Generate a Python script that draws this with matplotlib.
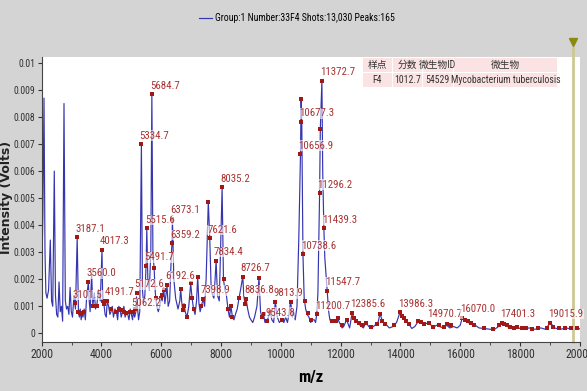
import numpy as np
import matplotlib.pyplot as plt
from matplotlib.patches import Rectangle

# spectrum trace (m/z, intensity in mV)
trace_mz = [2000, 2040, 2077, 2110, 2140, 2180, 2230, 2288, 2330, 2370, 2421, 2460, 2500, 2540,
            2580, 2620, 2660, 2700, 2746, 2790, 2830, 2870, 2910, 2950, 2990, 3030, 3080, 3130,
            3187, 3230, 3260, 3290, 3320, 3350, 3380, 3420, 3460, 3500, 3560, 3590, 3620, 3670,
            3710, 3760, 3800, 3850, 3900, 3960, 4017, 4040, 4080, 4120, 4160, 4192, 4240, 4280,
            4320, 4360, 4400, 4450, 4500, 4540, 4580, 4620, 4660, 4700, 4750, 4790, 4840, 4880,
            4920, 4960, 5000, 5040, 5062, 5110, 5150, 5173, 5240, 5280, 5335, 5370, 5410, 5450,
            5492, 5516, 5550, 5600, 5650, 5685, 5720, 5760, 5800, 5850, 5900, 5950, 5990, 6030,
            6080, 6120, 6193, 6230, 6280, 6340, 6359, 6373, 6420, 6480, 6560, 6620, 6649, 6680,
            6720, 6760, 6800, 6860, 6920, 6984, 7030, 7080, 7130, 7180, 7218, 7260, 7300, 7340,
            7399, 7450, 7500, 7573, 7622, 7670, 7720, 7760, 7800, 7834, 7880, 7940, 7990, 8035,
            8080, 8130, 8180, 8230, 8280, 8330, 8380, 8430, 8480, 8540, 8600, 8650, 8727, 8760,
            8800, 8837, 8890, 8950, 9000, 9060, 9120, 9200, 9268, 9320, 9370, 9420, 9470, 9544,
            9580, 9640, 9700, 9760, 9814, 9880, 9950, 10030, 10100, 10160, 10220, 10270, 10328,
            10380, 10430, 10480, 10540, 10600, 10657, 10677, 10700, 10739, 10780, 10830, 10880,
            10940, 11000, 11060, 11120, 11160, 11201, 11240, 11296, 11320, 11373, 11400, 11439,
            11470, 11548, 11600, 11640, 11700, 11760, 11830, 11900, 11960, 12050, 12100, 12200,
            12300, 12386, 12460, 12550, 12650, 12760, 12850, 12940, 13030, 13150, 13250, 13316,
            13400, 13500, 13630, 13750, 13870, 13986, 14080, 14180, 14280, 14380, 14480, 14600,
            14700, 14820, 14971, 15080, 15200, 15320, 15430, 15550, 15650, 15780, 15900, 16000,
            16070, 16150, 16260, 16380, 16500, 16630, 16800, 17000, 17150, 17280, 17401, 17520,
            17650, 17800, 17950, 18100, 18300, 18500, 18700, 18850, 19016, 19150, 19350, 19550,
            19750, 20000]
trace_int = [2.0, 4.4, 8.7, 3.0, 1.5, 1.3, 1.6, 3.45, 1.2, 1.0, 6.0, 1.4, 0.7, 0.6,
             1.9, 0.8, 1.0, 0.45, 8.5, 1.2, 0.9, 1.0, 0.7, 1.7, 0.8, 0.6, 1.4, 0.9,
             3.55, 0.8, 0.6, 0.9, 0.5, 0.8, 0.6, 0.9, 0.5, 1.3, 1.9, 1.2, 0.8, 2.2,
             1.0, 1.5, 0.9, 1.1, 1.6, 1.2, 3.1, 1.2, 1.1, 0.7, 0.6, 1.2, 1.0, 0.7,
             0.8, 1.0, 0.6, 0.9, 0.8, 0.5, 1.0, 0.9, 0.6, 0.8, 1.0, 0.6, 0.8, 0.7,
             0.5, 0.9, 0.7, 0.5, 0.8, 0.6, 0.8, 1.35, 0.5, 0.8, 7.0, 1.6, 1.1, 1.4,
             2.5, 3.88, 2.0, 1.6, 3.0, 8.85, 3.0, 2.4, 1.5, 1.0, 0.8, 1.0, 1.4, 1.2,
             1.7, 1.1, 1.75, 1.0, 1.2, 3.0, 3.33, 4.23, 2.0, 1.3, 0.9, 1.2, 1.65, 1.2,
             0.8, 1.1, 0.8, 0.6, 1.0, 1.85, 1.3, 0.9, 0.7, 1.2, 2.1, 1.1, 0.8, 1.0,
             1.28, 1.0, 2.0, 4.87, 3.51, 1.6, 1.4, 1.3, 2.0, 2.69, 1.4, 1.2, 3.5, 5.4,
             2.0, 1.6, 1.4, 0.9, 0.6, 1.0, 0.6, 0.5, 0.7, 0.9, 1.3, 1.6, 2.1, 1.4,
             1.1, 1.28, 0.9, 0.6, 0.5, 0.4, 0.6, 1.0, 2.06, 0.8, 0.6, 0.7, 0.4, 0.45,
             0.6, 0.8, 0.5, 0.4, 1.17, 0.6, 0.4, 0.5, 0.4, 0.6, 0.4, 0.7, 1.2,
             0.6, 0.8, 0.5, 1.0, 3.5, 6.63, 8.66, 7.82, 2.93, 1.3, 0.9, 0.7,
             0.6, 0.4, 0.5, 0.5, 0.4, 0.7, 1.5, 5.18, 7.56, 9.35, 6.0, 3.88,
             2.8, 1.58, 0.8, 0.5, 0.4, 0.45, 0.4, 0.55, 0.4, 0.2, 0.25, 0.5,
             0.2, 0.76, 0.5, 0.4, 0.3, 0.2, 0.4, 0.25, 0.2, 0.3, 0.4, 0.72,
             0.45, 0.35, 0.2, 0.25, 0.4, 0.78, 0.6, 0.45, 0.35, 0.18, 0.25, 0.45,
             0.4, 0.35, 0.4, 0.2, 0.3, 0.25, 0.2, 0.3, 0.2, 0.25, 0.2, 0.3,
             0.58, 0.5, 0.4, 0.35, 0.3, 0.2, 0.18, 0.15, 0.15, 0.25, 0.39, 0.3,
             0.2, 0.18, 0.2, 0.15, 0.2, 0.15, 0.2, 0.15, 0.4, 0.2, 0.15, 0.2,
             0.15, 0.17]

# labelled peaks
label_mz = [3101.5, 3187.1, 3560.0, 4017.3, 4191.7, 5062.2, 5172.6, 5334.7, 5491.7, 5515.6,
            5684.7, 6192.6, 6359.2, 6373.1, 7398.9, 7621.6, 7834.4, 8035.2, 8726.7, 8836.8,
            9543.8, 9813.9, 10656.9, 10677.3, 10738.6, 11200.7, 11296.2, 11372.7, 11439.3,
            11547.7, 12385.6, 13986.3, 14970.7, 16070.0, 17401.3, 19015.9]
label_int = [1.11, 3.55, 1.9, 3.1, 1.2, 0.8, 1.5, 7.0, 2.5, 3.88,
             8.85, 1.8, 3.33, 4.23, 1.28, 3.51, 2.69, 5.4, 2.1, 1.28,
             0.45, 1.17, 6.63, 7.82, 2.93, 0.7, 5.18, 9.35, 3.88,
             1.58, 0.76, 0.78, 0.4, 0.58, 0.39, 0.4]

# other detected peaks (red dots without text)
dot_mz = [3230, 3280, 3330, 3420, 3700, 3850, 4060, 4100, 4330, 4480,
          4600, 4650, 4760, 4820, 4960, 5120, 5750, 5830, 5980, 6010, 6080, 6649, 6720, 6770,
          6860, 6984, 7030, 7080, 7218, 7330, 7573, 8090, 8240, 8330, 8380, 8600, 8800, 9268,
          9370, 9420, 9640, 10050, 10328, 10673, 10800, 10900, 11000, 11320, 11700, 11830,
          11900, 12050, 12200, 12460, 12520, 12600, 12700, 12850, 13000, 13200, 13316, 13400,
          13500, 13800, 14050, 14120, 14200, 14300, 14600, 14700, 14800, 15100, 15300, 15450,
          15550, 15700, 16150, 16250, 16350, 16450, 16800, 17100, 17300, 17480, 17550, 17650,
          17800, 17900, 18050, 18200, 18400, 18600, 18900, 19100, 19300, 19500, 19700, 19900]
dot_int = [0.8, 0.75, 0.7, 0.8, 1.0, 1.0, 1.2, 1.1, 0.9, 0.8,
           0.9, 0.85, 0.8, 0.75, 0.8, 0.9, 2.4, 1.3, 1.3, 1.4, 1.6, 1.65, 0.85, 1.0,
           0.6, 1.85, 1.3, 0.9, 2.1, 1.0, 4.87, 2.0, 0.9, 1.0, 0.6, 1.3, 1.1, 2.06,
           0.6, 0.7, 0.8, 0.5, 1.17, 8.66, 1.2, 0.75, 0.5, 7.56, 0.45, 0.45,
           0.55, 0.3, 0.5, 0.55, 0.45, 0.4, 0.3, 0.4, 0.25, 0.35, 0.72, 0.45,
           0.35, 0.3, 0.65, 0.55, 0.45, 0.35, 0.45, 0.42, 0.35, 0.25, 0.3, 0.25,
           0.35, 0.3, 0.5, 0.45, 0.38, 0.3, 0.2, 0.15, 0.3, 0.35, 0.3, 0.25,
           0.2, 0.22, 0.2, 0.2, 0.15, 0.2, 0.2, 0.22, 0.2, 0.2, 0.2, 0.18]

table_cols = ['样点', '分数', '微生物ID', '微生物']
table_row = ['F4', '1012.7', '54529', 'Mycobacterium tuberculosis']
legend_text = 'Group:1 Number:33F4 Shots:13,030 Peaks:165'
marker_mz = 19780

narrow = ['Roboto Condensed', 'Archivo Narrow', 'Liberation Sans Narrow', 'DejaVu Sans']
cjk = ['Roboto Condensed', 'Noto Sans CJK SC', 'DejaVu Sans']

W, H = 587, 391
fig = plt.figure(figsize=(W / 100, H / 100), dpi=100, facecolor='#d4d4d4')
ax = fig.add_axes([41.7 / W, 49 / H, (579.8 - 41.7) / W, (342 - 57) / H])
ax.set_facecolor('white')

scale = 1e-3
line, = ax.plot(trace_mz, np.array(trace_int) * scale, color='#3535b0', lw=0.85,
                label=legend_text)
ax.plot(dot_mz, np.array(dot_int) * scale, 's', ms=2.4, color='#a01818', mew=0, zorder=3)
ax.plot(label_mz, np.array(label_int) * scale, 's', ms=2.4, color='#a01818', mew=0, zorder=3)

for mz, v in zip(label_mz, label_int):
    ax.annotate(f'{mz:.1f}', (mz, v * scale), xytext=(-1.5, 2.5), textcoords='offset points',
                ha='left', va='bottom', fontsize=7.8, color='#a83232', family=narrow,
                bbox=dict(fc='white', ec='none', alpha=0.6, pad=0.2), zorder=4)

ax.set_xlim(2000, 20000)
ax.set_ylim(-0.32e-3, 10.22e-3)
ax.set_xticks(np.arange(2000, 20001, 2000))
ax.set_xticks(np.arange(3000, 20000, 2000), minor=True)
ax.set_yticks(np.arange(0, 0.0101, 0.001))
ax.set_yticklabels(['0'] + [f'{v:.3f}' for v in np.arange(0.001, 0.0095, 0.001)] + ['0.01'])
for t in ax.get_xticklabels():
    t.set_family(narrow)
    t.set_fontsize(8.5)
for t in ax.get_yticklabels():
    t.set_family(narrow)
    t.set_fontsize(7)
ax.tick_params(axis='both', colors='#333333', length=3, width=0.8, pad=1.5)
ax.tick_params(axis='x', which='minor', length=2.5, color='#333333')
for s in ['top', 'right']:
    ax.spines[s].set_visible(False)
for s in ['left', 'bottom']:
    ax.spines[s].set_color('#444444')

fig.text(7 / W, 1 - 197 / H, 'Intensity (Volts)', rotation=90, ha='center', va='center',
         fontsize=9, fontweight='bold', color='#222222')
ax.set_xlabel('m/z', fontsize=12, fontweight='bold', family=narrow, labelpad=6)

# vertical cursor with triangle
ax.plot([marker_mz, marker_mz], [-0.32e-3, 10.55e-3], color='#cdc994', lw=2, clip_on=False)
ax.plot([marker_mz], [10.78e-3], 'v', color='#8a8a10', ms=6, clip_on=False)

fig.legend(handles=[line], loc='center', bbox_to_anchor=(297 / W, 1 - 18 / H), frameon=False,
           handlelength=1.3, handletextpad=0.3, prop={'family': narrow, 'size': 7})

# result table
col_x = [362.7, 392.7, 422.7, 454.0, 558.3]
rows_y = [(58.3, 71.7), (73.3, 87.3)]
for r, cells in enumerate([table_cols, table_row]):
    y0, y1 = rows_y[r]
    for c, txt in enumerate(cells):
        x0, x1 = col_x[c], col_x[c + 1] - 1
        fig.patches.append(Rectangle((x0 / W, 1 - y1 / H), (x1 - x0) / W, (y1 - y0) / H,
                                     transform=fig.transFigure, fc='#fbe3e3', ec='none'))
        fig.text((x0 + x1) / 2 / W, 1 - (y0 + y1) / 2 / H, txt, ha='center', va='center',
                 fontsize=7, color='#333333', family=cjk)

fig.savefig('out.png', dpi=100, facecolor=fig.get_facecolor())
